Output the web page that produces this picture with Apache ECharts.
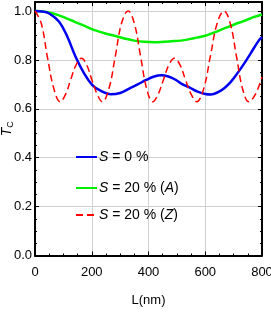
<!DOCTYPE html>
<html><head><meta charset="utf-8">
<script src="https://cdn.jsdelivr.net/npm/echarts@6/dist/echarts.min.js"></script>
<style>html,body{margin:0;padding:0;background:#fff}#c{width:271px;height:314px}</style>
</head><body><div id="c"></div>
<script>
const xTicks = [0, 200, 400, 600, 800];
const yTicks = [0.0, 0.2, 0.4, 0.6, 0.8, 1.0];
const seriesNames = ['S = 0 %', 'S = 20 % (A)', 'S = 20 % (Z)'];
const blueL = [0,25,50,85,114,143,173,202,231,266,300,334,362,392,420,445,470,497,520,544,573,600,620,645,667,690,713,737,760,789,800];
const blueT = [1.0,0.998,0.99,0.956,0.895,0.813,0.745,0.697,0.674,0.66,0.665,0.684,0.70,0.718,0.732,0.737,0.732,0.718,0.70,0.688,0.67,0.661,0.659,0.668,0.684,0.71,0.745,0.785,0.827,0.88,0.893];
const greenL = [0,35,70,105,140,175,210,245,280,315,350,385,420,455,490,526,560,596,630,667,700,737,770,800];
const greenT = [1.0,0.997,0.988,0.973,0.956,0.939,0.922,0.909,0.899,0.888,0.879,0.874,0.872,0.874,0.877,0.881,0.889,0.898,0.912,0.929,0.944,0.96,0.975,0.986];
const redL = [0,22,44,67,89,108,126,145,164,182,200,219,237,260,283,305,328,350,372,394,415,434,453,472,491,511,530,550,570,594,618,642,666,688,710,732,754,777,800];
const redT = [1.0,0.95,0.81,0.68,0.629,0.66,0.72,0.78,0.807,0.78,0.72,0.66,0.629,0.68,0.815,0.95,1.0,0.95,0.815,0.68,0.629,0.66,0.72,0.78,0.807,0.78,0.72,0.66,0.629,0.68,0.815,0.95,1.0,0.95,0.815,0.68,0.629,0.66,0.73];

const FONT = "'Liberation Sans Narrow','Liberation Sans',sans-serif";
const FS = 13;
const zip = (a, b) => a.map((v, i) => [v, b[i]]);
const chart = echarts.init(document.getElementById('c'), null, {renderer: 'canvas'});
const XMIN = xTicks[0], XMAX = xTicks[xTicks.length - 1];
const YMAX = 1.037;
const frameAxis = (extra) => Object.assign({
  axisLine: {show: true, onZero: false, lineStyle: {color: '#000', width: 2}},
  axisTick: {show: true, inside: true, length: 4, lineStyle: {color: '#000', width: 1}},
  minorTick: {show: true, splitNumber: 4, length: 2, lineStyle: {color: '#000', width: 1}},
  axisLabel: {show: false},
  splitLine: {show: false}
}, extra);
const legendRich = {
  i: {fontStyle: 'italic', fontFamily: FONT, fontSize: 14, color: '#000'},
  n: {fontFamily: FONT, fontSize: 14, color: '#000'}
};
const fmtLegend = (name) => {
  if (name === seriesNames[0]) return '{i|S}{n| = 0 %}';
  if (name === seriesNames[1]) return '{i|S}{n| = 20 % (}{i|A}{n|)}';
  return '{i|S}{n| = 20 % (}{i|Z}{n|)}';
};
const mkLegend = (name, top) => ({
  data: [name], left: 70, top: top, itemWidth: 21, itemHeight: 8, itemGap: 2,
  itemStyle: {opacity: 0, borderWidth: 0},
  formatter: fmtLegend, textStyle: {rich: legendRich, fontFamily: FONT, fontSize: 14, padding: [0,0,0,-3]},
  selectedMode: false
});
chart.setOption({
  animation: false,
  backgroundColor: '#fff',
  grid: {left: 35, right: 9, top: 2, bottom: 58.5, containLabel: false, outerBoundsMode: 'none'},
  legend: [mkLegend(seriesNames[0], 145), mkLegend(seriesNames[1], 176), mkLegend(seriesNames[2], 203)],
  xAxis: [
    frameAxis({type: 'value', min: XMIN, max: XMAX, interval: 200, position: 'bottom',
      name: 'L(nm)', nameLocation: 'middle', nameGap: 38, nameMoveOverlap: false,
      nameTextStyle: {fontFamily: FONT, fontSize: FS, color: '#000'},
      axisLabel: {show: true, margin: 10, fontFamily: FONT, fontSize: FS, color: '#000'},
      splitLine: {show: true, lineStyle: {color: '#d0d0d0', width: 1}}}),
    frameAxis({type: 'value', min: XMIN, max: XMAX, interval: 200, position: 'top'})
  ],
  yAxis: [
    frameAxis({type: 'value', min: yTicks[0], max: YMAX, interval: 0.2, position: 'left',
      name: '{t|T}{c|C}', nameLocation: 'middle', nameGap: 20, nameRotate: 90, nameMoveOverlap: false,
      nameTextStyle: {rich: {t: {fontFamily: FONT, fontStyle: 'italic', fontSize: 14, color: '#000'},
                             c: {fontFamily: FONT, fontSize: 9, color: '#000', padding: [6,0,0,0]}}},
      axisLabel: {show: true, margin: 3, fontFamily: FONT, fontSize: FS, color: '#000', showMaxLabel: false,
        formatter: (v) => v.toFixed(1)},
      splitLine: {show: true, lineStyle: {color: '#d0d0d0', width: 1}}}),
    frameAxis({type: 'value', min: yTicks[0], max: YMAX, interval: 0.2, position: 'right'})
  ],
  series: [
    {name: seriesNames[0], type: 'line', data: zip(blueL, blueT), smooth: 0.4, symbol: 'none',
      lineStyle: {color: '#0000f0', width: 2.5}, itemStyle: {color: '#0000f0'}, z: 3},
    {name: seriesNames[1], type: 'line', data: zip(greenL, greenT), smooth: 0.4, symbol: 'none',
      lineStyle: {color: '#00f000', width: 2.5}, itemStyle: {color: '#00f000'}, z: 2},
    {name: seriesNames[2], type: 'line', data: zip(redL, redT), smooth: 0.4, symbol: 'none',
      lineStyle: {color: '#ff0000', width: 1.5, type: [7, 4]}, itemStyle: {color: '#ff0000'}, z: 4}
  ]
});
</script></body></html>
